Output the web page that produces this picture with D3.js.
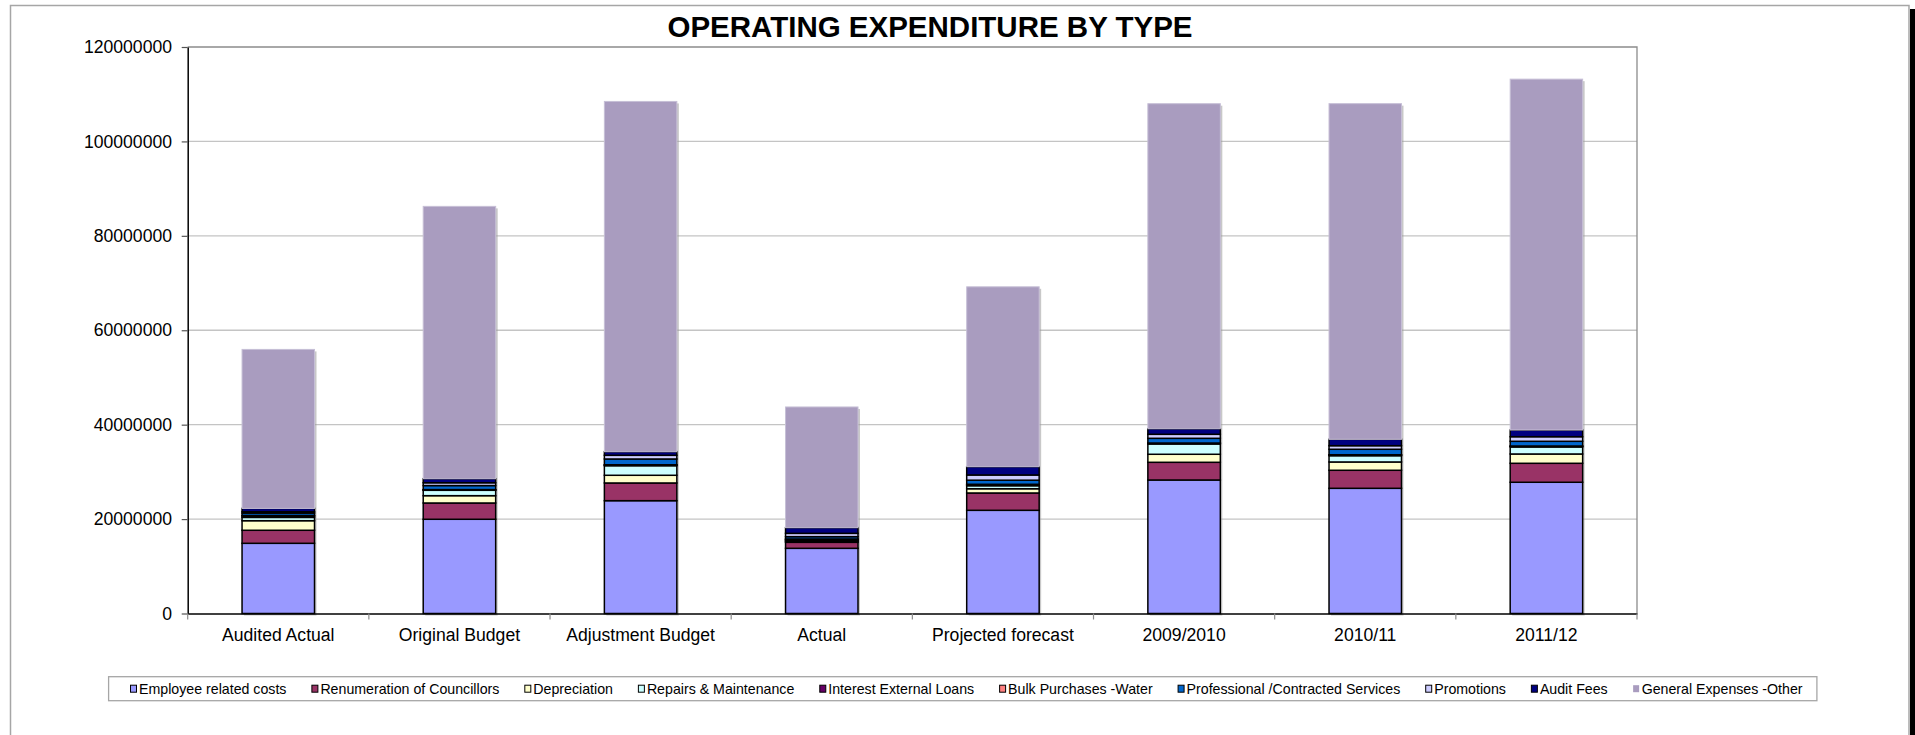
<!DOCTYPE html>
<html>
<head>
<meta charset="utf-8">
<title>Operating Expenditure by Type</title>
<script src="https://cdn.jsdelivr.net/npm/d3@7"></script>
<style>
  html, body { margin: 0; padding: 0; background: #fff; }
  svg { display: block; font-family: "Liberation Sans", Arial, Helvetica, sans-serif; }
</style>
</head>
<body>
<svg id="chart" width="1915" height="735"></svg>
<script>
// ---- data ----
const categories = ["Audited Actual", "Original Budget", "Adjustment Budget", "Actual",
                    "Projected forecast", "2009/2010", "2010/11", "2011/12"];

const seriesNames = ["Employee related costs", "Renumeration of Councillors", "Depreciation",
                     "Repairs & Maintenance", "Interest External Loans", "Bulk Purchases -Water",
                     "Professional /Contracted Services", "Promotions", "Audit Fees",
                     "General Expenses -Other"];

const employeeCosts     = [14870000, 19960000, 23900000, 13810000, 21860000, 28280000, 26520000, 27800000];
const councillorsPay    = [ 2760000,  3450000,  3750000,  1270000,  3670000,  3750000,  3820000,  4020000];
const depreciation      = [ 2030000,  1550000,  1630000,   200000,   900000,  1700000,  1760000,  1970000];
const repairs           = [  700000,  1140000,  2030000,   200000,   640000,  2180000,  1330000,  1490000];
const interestLoans     = [  300000,   100000,   150000,   200000,   200000,   150000,   150000,   150000];
const bulkWater         = [  100000,    50000,    50000,   100000,   100000,    50000,    50000,    50000];
const professional      = [  500000,   850000,  1220000,   500000,   870000,  1000000,  1160000,  1000000];
const promotions        = [  300000,   600000,   780000,   700000,  1100000,   850000,   760000,   970000];
const auditFees         = [  700000,   850000,   760000,  1200000,  1760000,  1180000,  1350000,  1420000];
const generalExpenses   = [33680000, 57690000, 74200000, 25570000, 38100000, 68850000, 71100000, 74320000];

const yTickValues = [0, 20000000, 40000000, 60000000, 80000000, 100000000, 120000000];

// ---- setup ----
const seriesValues = [employeeCosts, councillorsPay, depreciation, repairs, interestLoans,
                      bulkWater, professional, promotions, auditFees, generalExpenses];
const palette = ["#9999ff", "#993366", "#ffffcc", "#ccffff", "#660066",
                 "#ff8080", "#0066cc", "#ccccff", "#000080", "#a99cbf"];

const W = 1915, H = 735;
const plot = { left: 187.7, right: 1637, top: 47, bottom: 613.5 };
const fontAxis = 17.6;

const svg = d3.select("#chart");
svg.append("rect").attr("width", W).attr("height", H).attr("fill", "#fff");

// chart area frame and right-hand edge strip
svg.append("rect")
  .attr("x", 10.5).attr("y", 5.5).attr("width", 1898.5).attr("height", 780)
  .attr("fill", "none").attr("stroke", "#a6a6a6").attr("stroke-width", 1.5);
svg.append("rect").attr("x", 1910).attr("y", 9).attr("width", 5).attr("height", H).attr("fill", "#000");

// scales
const x = d3.scaleBand().domain(categories).range([plot.left, plot.right])
  .paddingInner(0.6).paddingOuter(0.3);
const xCat = d3.scaleBand().domain(categories).range([plot.left, plot.right]).padding(0);
const y = d3.scaleLinear().domain([0, 120000000]).range([plot.bottom, plot.top]);

// gridlines
svg.append("g").selectAll("line")
  .data(yTickValues.filter(v => v > 0 && v < 120000000))
  .join("line")
  .attr("x1", plot.left).attr("x2", plot.right)
  .attr("y1", d => y(d)).attr("y2", d => y(d))
  .attr("stroke", "#c4c4c4").attr("stroke-width", 1.3);

// plot area top / right border
svg.append("path")
  .attr("d", `M${plot.left},${y(120000000)}H${plot.right}V${plot.bottom}`)
  .attr("fill", "none").attr("stroke", "#8c8c8c").attr("stroke-width", 1.3);

// stacked data
const rows = categories.map((c, i) => {
  const r = { category: c };
  seriesNames.forEach((s, j) => { r[s] = seriesValues[j][i]; });
  return r;
});
const stacked = d3.stack().keys(seriesNames)(rows);
const totals = rows.map(r => d3.sum(seriesNames, s => r[s]));

// bar shadows
svg.append("g").selectAll("rect")
  .data(rows)
  .join("rect")
  .attr("x", d => x(d.category) + 2)
  .attr("y", (d, i) => y(totals[i]) + 2)
  .attr("width", x.bandwidth())
  .attr("height", (d, i) => y(0) - y(totals[i]))
  .attr("fill", "#9a9a9a").attr("opacity", 0.55);

// bar segments
const layers = svg.append("g").selectAll("g")
  .data(stacked)
  .join("g")
  .attr("fill", (d, i) => palette[i])
  .attr("stroke", (d, i) => i === seriesNames.length - 1 ? "#c6bfd6" : "#000")
  .attr("stroke-width", (d, i) => i === seriesNames.length - 1 ? 1 : 1.5);

layers.selectAll("rect")
  .data(d => d)
  .join("rect")
  .attr("x", d => x(d.data.category))
  .attr("y", d => y(d[1]))
  .attr("width", x.bandwidth())
  .attr("height", d => Math.max(0, y(d[0]) - y(d[1])));

// y axis
const yAxis = svg.append("g")
  .attr("transform", `translate(${plot.left},0)`)
  .call(d3.axisLeft(y).tickValues(yTickValues).tickFormat(d3.format("d"))
        .tickSize(6).tickSizeOuter(0).tickPadding(9.7));
yAxis.attr("font-family", null).attr("font-size", null);
yAxis.select(".domain").attr("stroke", "#000").attr("stroke-width", 1.5);
yAxis.selectAll(".tick line").attr("stroke", "#555").attr("stroke-width", 1.2);
yAxis.selectAll(".tick text").attr("fill", "#000").style("font-size", fontAxis + "px");

// category axis
const xAxis = svg.append("g")
  .attr("transform", `translate(0,${plot.bottom})`)
  .call(d3.axisBottom(xCat).tickSize(0).tickSizeOuter(0).tickPadding(15));
xAxis.attr("font-family", null).attr("font-size", null);
xAxis.select(".domain").attr("stroke", "#000").attr("stroke-width", 1.5);
xAxis.selectAll(".tick text").attr("fill", "#000").style("font-size", fontAxis + "px");

// category boundary tick marks
svg.append("g").selectAll("line")
  .data(d3.range(categories.length + 1))
  .join("line")
  .attr("x1", i => xCat.range()[0] + i * xCat.step())
  .attr("x2", i => xCat.range()[0] + i * xCat.step())
  .attr("y1", plot.bottom).attr("y2", plot.bottom + 6)
  .attr("stroke", "#8c8c8c").attr("stroke-width", 1.2);

// title
svg.append("text")
  .attr("x", 930).attr("y", 37)
  .attr("text-anchor", "middle")
  .attr("font-weight", "bold")
  .style("font-size", "29.5px")
  .attr("fill", "#000")
  .text("OPERATING EXPENDITURE BY TYPE");

// legend
const legendBox = { x: 108.6, y: 676.7, w: 1708.3, h: 24 };
svg.append("rect")
  .attr("x", legendBox.x).attr("y", legendBox.y)
  .attr("width", legendBox.w).attr("height", legendBox.h)
  .attr("fill", "#fff").attr("stroke", "#a6a6a6").attr("stroke-width", 1.3);

const legend = svg.append("g");
const legendFont = 14.2;
const swatch = 6, swatchGap = 8.5;
const legendStart = 130.5, legendEnd = 1802.5;
const cy = legendBox.y + legendBox.h / 2;

const items = legend.selectAll("g")
  .data(seriesNames)
  .join("g");
items.append("text")
  .attr("y", cy)
  .attr("dy", "0.35em")
  .style("font-size", legendFont + "px")
  .attr("fill", "#000")
  .text(d => d);
const widths = [];
items.select("text").each(function () { widths.push(this.getComputedTextLength()); });
const n = seriesNames.length;
const gap = (legendEnd - legendStart - d3.sum(widths) - n * swatchGap) / (n - 1);
let cursor = legendStart;
items.each(function (d, i) {
  const g = d3.select(this);
  const last = i === n - 1;
  g.insert("rect", "text")
    .attr("x", cursor).attr("y", cy - swatch / 2 - 0.5)
    .attr("width", swatch).attr("height", swatch + 1)
    .attr("fill", palette[i])
    .attr("stroke", last ? "none" : "#000").attr("stroke-width", 1);
  g.select("text").attr("x", cursor + swatchGap);
  cursor += swatchGap + widths[i] + gap;
});
</script>
</body>
</html>
